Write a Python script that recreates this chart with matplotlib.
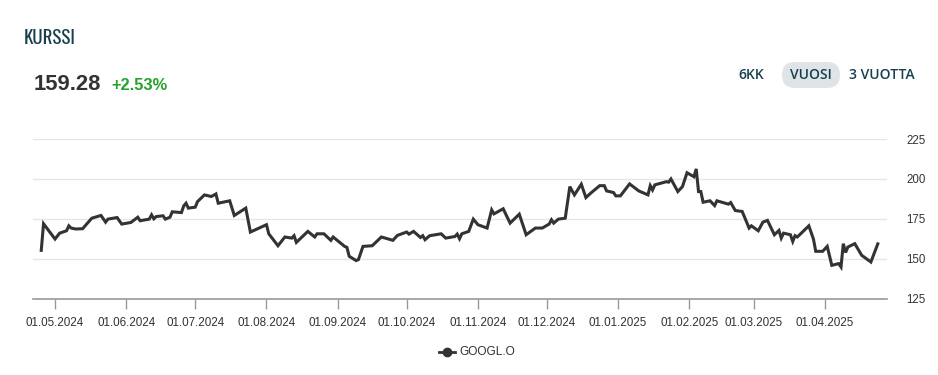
import pandas as pd
import matplotlib
matplotlib.use('Agg')
import matplotlib.pyplot as plt
import matplotlib.dates as mdates
from matplotlib.patches import FancyBboxPatch

# GOOGL.O closing prices
dates = [
    '2024-04-25', '2024-04-26', '2024-05-01', '2024-05-03', '2024-05-06', '2024-05-07',
    '2024-05-08', '2024-05-10', '2024-05-13', '2024-05-17', '2024-05-21', '2024-05-23',
    '2024-05-24', '2024-05-28', '2024-05-30', '2024-06-03', '2024-06-06', '2024-06-07',
    '2024-06-11', '2024-06-12', '2024-06-13', '2024-06-14', '2024-06-17', '2024-06-18',
    '2024-06-20', '2024-06-21', '2024-06-25', '2024-06-26', '2024-06-27', '2024-06-28',
    '2024-07-01', '2024-07-02', '2024-07-05', '2024-07-08', '2024-07-10', '2024-07-11',
    '2024-07-16', '2024-07-18', '2024-07-23', '2024-07-25', '2024-08-01', '2024-08-02',
    '2024-08-06', '2024-08-09', '2024-08-12', '2024-08-13', '2024-08-14', '2024-08-19',
    '2024-08-22', '2024-08-23', '2024-08-26', '2024-08-29', '2024-08-30', '2024-09-04',
    '2024-09-05', '2024-09-06', '2024-09-09', '2024-09-10', '2024-09-12', '2024-09-16',
    '2024-09-20', '2024-09-23', '2024-09-25', '2024-09-27', '2024-10-01', '2024-10-02',
    '2024-10-04', '2024-10-07', '2024-10-08', '2024-10-09', '2024-10-11', '2024-10-16',
    '2024-10-18', '2024-10-22', '2024-10-23', '2024-10-24', '2024-10-25', '2024-10-28',
    '2024-10-30', '2024-11-01', '2024-11-05', '2024-11-07', '2024-11-08', '2024-11-12',
    '2024-11-15', '2024-11-19', '2024-11-22', '2024-11-26', '2024-11-29', '2024-12-02',
    '2024-12-03', '2024-12-04', '2024-12-06', '2024-12-09', '2024-12-11', '2024-12-13',
    '2024-12-16', '2024-12-18', '2024-12-20', '2024-12-24', '2024-12-26', '2024-12-27',
    '2024-12-30', '2024-12-31', '2025-01-02', '2025-01-06', '2025-01-10', '2025-01-14',
    '2025-01-15', '2025-01-16', '2025-01-17', '2025-01-22', '2025-01-23', '2025-01-24',
    '2025-01-27', '2025-01-29', '2025-01-31', '2025-02-03', '2025-02-04', '2025-02-05',
    '2025-02-06', '2025-02-07', '2025-02-10', '2025-02-12', '2025-02-13', '2025-02-18',
    '2025-02-19', '2025-02-21', '2025-02-24', '2025-02-27', '2025-02-28', '2025-03-03',
    '2025-03-05', '2025-03-07', '2025-03-10', '2025-03-12', '2025-03-13', '2025-03-14',
    '2025-03-17', '2025-03-18', '2025-03-19', '2025-03-20', '2025-03-25', '2025-03-27',
    '2025-03-28', '2025-03-31', '2025-04-02', '2025-04-04', '2025-04-07', '2025-04-08',
    '2025-04-09', '2025-04-10', '2025-04-11', '2025-04-14', '2025-04-17', '2025-04-21',
    '2025-04-24',
]
prices = [
    155.2, 171.9, 162.3, 166.0, 167.5, 170.6,
    169.2, 168.6, 168.8, 175.4, 177.1, 172.9,
    174.8, 175.8, 171.7, 172.7, 176.0, 173.8,
    174.8, 177.5, 175.0, 176.4, 176.9, 174.8,
    176.0, 179.4, 178.9, 183.1, 184.8, 181.7,
    182.3, 185.8, 190.0, 189.0, 190.6, 184.8,
    186.3, 177.1, 181.7, 166.7, 171.3, 165.6,
    158.1, 163.6, 162.9, 164.4, 160.2, 167.1,
    163.6, 165.6, 165.6, 161.5, 163.6, 157.7,
    157.1, 151.5, 148.8, 149.4, 157.7, 158.1,
    163.6, 162.3, 161.5, 164.6, 166.7, 165.4,
    167.1, 163.3, 164.4, 161.9, 164.4, 165.6,
    162.9, 163.9, 165.4, 162.5, 165.6, 167.1,
    174.8, 171.3, 169.2, 180.6, 178.1, 181.3,
    172.3, 177.9, 165.0, 169.2, 169.2, 171.7,
    174.4, 172.3, 174.8, 175.4, 195.2, 190.0,
    196.7, 188.3, 191.0, 195.8, 195.8, 192.5,
    191.5, 189.4, 189.4, 196.9, 192.5, 190.0,
    195.8, 193.1, 196.3, 198.3, 198.0, 200.0,
    192.1, 195.2, 203.9, 201.4, 206.3, 192.1,
    192.1, 185.4, 186.3, 183.3, 186.3, 184.2,
    185.2, 180.2, 179.6, 169.2, 170.6, 167.5,
    172.9, 174.0, 165.0, 167.7, 162.9, 166.0,
    165.0, 160.8, 164.4, 163.6, 170.6, 162.3,
    154.6, 154.6, 157.7, 145.8, 146.9, 144.8,
    159.4, 153.9, 157.3, 159.4, 152.1, 147.9,
    159.28,
]
y_ticks = [125, 150, 175, 200, 225]
ranges = ['6KK', 'VUOSI', '3 VUOTTA']

df = pd.DataFrame({'date': pd.to_datetime(dates), 'price': prices})

plt.rcParams['font.family'] = ['Liberation Sans', 'DejaVu Sans']
teal = '#17404f'
title_font = ['Oswald', 'IBM Plex Sans Condensed', 'Liberation Sans']
button_font = ['Open Sans', 'DejaVu Sans']

fig = plt.figure(figsize=(9.38, 3.75), dpi=100)

# overlay in pixel units for the header and legend
over = fig.add_axes([0, 0, 1, 1])
over.set_xlim(0, 938)
over.set_ylim(375, 0)
over.axis('off')

ax = fig.add_axes([0.0352, 0.204, 0.9104, 0.425])
ax.plot(df['date'], df['price'], color='#333333', linewidth=2.2, solid_joinstyle='miter')

ax.set_xlim(pd.Timestamp('2024-04-21 10:00'), pd.Timestamp('2025-04-28'))
ax.set_ylim(125, 225)
ax.set_yticks(y_ticks)
ax.yaxis.tick_right()
ax.tick_params(axis='y', length=0, pad=14, labelsize=8.3, labelcolor='#333333')
ax.grid(axis='y', color='#e6e6e6', linewidth=1)
ax.set_axisbelow(True)

ax.xaxis.set_major_locator(mdates.MonthLocator(bymonthday=1))
ax.xaxis.set_major_formatter(mdates.DateFormatter('%d.%m.%Y'))
ax.tick_params(axis='x', length=7, width=1, color='#999999', pad=6,
               labelsize=8.4, labelcolor='#333333')

for s in ['top', 'left', 'right']:
    ax.spines[s].set_visible(False)
ax.spines['bottom'].set_color('#999999')
ax.spines['bottom'].set_linewidth(1.2)

# header texts
over.text(24, 38, 'KURSSI', color=teal, fontsize=13.6, family=title_font, va='center')
over.text(34, 85, '159.28', color='#333333', fontsize=15.8, fontweight='bold', va='center')
over.text(111, 85, '+2.53%', color='#22a32a', fontsize=11.8, fontweight='bold', va='center')

# range selector
pill = FancyBboxPatch((782, 62), 58, 26, boxstyle='round,pad=0,rounding_size=13',
                      facecolor='#dfe5e7', edgecolor='none')
over.add_patch(pill)
for label, x in zip(ranges, [751.5, 811, 882]):
    over.text(x, 75, label, color=teal, fontsize=10, fontweight='semibold',
              family=button_font, ha='center', va='center')

# legend
over.plot([439, 455], [352, 352], color='#333333', linewidth=2)
over.plot([447], [352], color='#333333', marker='o', markersize=6)
over.text(459, 352, 'GOOGL.O', color='#333333', fontsize=8.6, va='center')

fig.savefig('out.png', dpi=100)
